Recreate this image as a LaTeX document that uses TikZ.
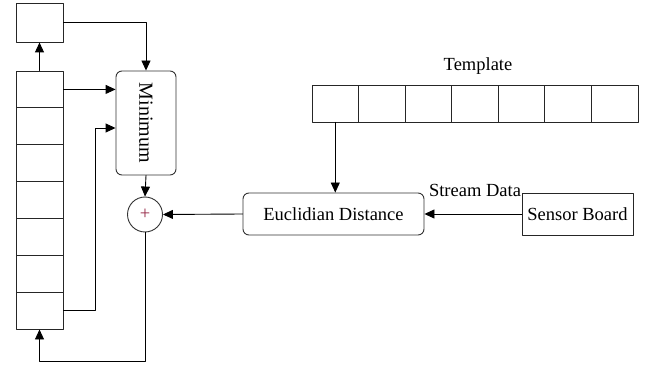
\documentclass[tikz,border=0pt]{standalone}
\usepackage{fontspec}
\setmainfont{Liberation Serif}
\usepackage{tikz}
\usetikzlibrary{arrows.meta,positioning}
\definecolor{plusred}{RGB}{150,40,70}

\begin{document}
\begin{tikzpicture}[
  x=1pt, y=-1pt,
  line cap=round,
  line join=round,
  every node/.style={font=\fontsize{18.5}{21}\selectfont, align=center},
  arr/.style={draw=black, -{Triangle[length=10pt, width=9pt]}, line width=0.9pt}
]

% ---------- node styles ----------
\tikzset{
  cell/.style={draw=black!85, line width=0.9pt, inner sep=0pt, minimum width=47pt, minimum height=36.9pt},
  tcell/.style={draw=black!85, line width=0.9pt, inner sep=0pt, minimum width=46.6pt, minimum height=37pt},
  roundBox/.style={draw=black!80, line width=0.9pt, rounded corners=6pt, inner sep=0pt},
  plainBox/.style={draw=black!85, line width=0.9pt, inner sep=0pt},
  sumNode/.style={draw=black!80, line width=0.9pt, circle, inner sep=0pt, minimum size=35pt, text=plusred}
}

\useasboundingbox (0,0) rectangle (651,366);

% ---------- buffer column ----------
\node[plainBox, minimum width=47pt, minimum height=39pt] (top) at (39.5,22.5) {};
\foreach \i in {1,...,7}
  \node[cell] (c\i) at (39.5,{71+36.86*(\i-0.5)}) {};

% ---------- minimum and sum ----------
\node[roundBox, minimum width=60pt, minimum height=104pt] (min) at (146,123) {\rotatebox{-90}{\fontsize{20}{22}\selectfont Minimum}};
\node[sumNode] (sum) at (145,214.5) {+};

% ---------- template ----------
\foreach \i in {1,...,7}
  \node[tcell] (t\i) at ({312+46.57*(\i-0.5)},103.5) {};
\node (tlabel) at (478,66) {Template};

% ---------- distance and sensor ----------
\node[roundBox, minimum width=181pt, minimum height=42pt] (eucl) at (333.5,214) {Euclidian Distance};
\node[plainBox, minimum width=111pt, minimum height=42pt] (sensor) at (577.5,214) {Sensor Board};
\node (stream) at (475,190) {Stream Data};

% ---------- connectors ----------
\coordinate (bend) at (95,128);
\coordinate (low) at (0,361);
\draw[arr] (c1.north) -- (top.south);
\draw[arr] (top.east) -| (min.north);
\draw[arr] (c1.east) -- (c1.east -| min.west);
\draw[arr] (c7.east) -| (bend) -- (bend -| min.west);
\draw[arr] (min.south) -- (sum.north);
\draw[arr] (eucl.west) -- (sum.east);
\draw[arr] (sum.south) -- (sum.south |- low) -| (c7.south);
\draw[arr] (t1.south) -- (t1.south |- eucl.north);
\draw[arr] (sensor.west) -- (eucl.east);

\end{tikzpicture}
\end{document}
